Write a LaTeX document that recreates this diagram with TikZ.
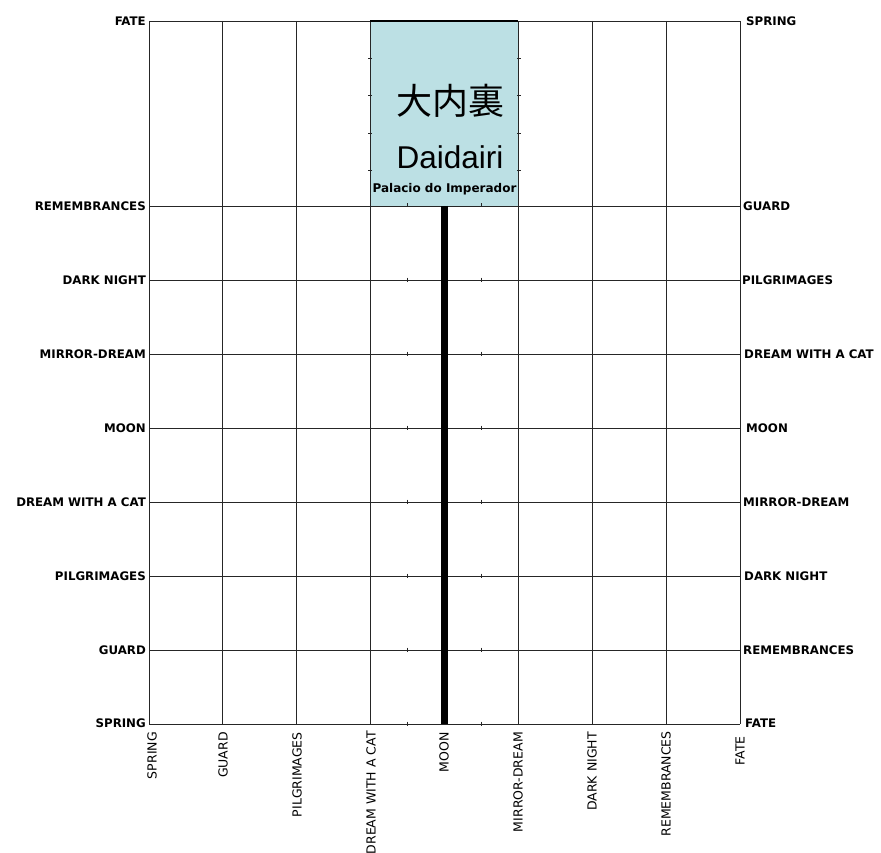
\documentclass[tikz,border=0pt]{standalone}
\usepackage{fontspec}
\newfontfamily\dv{DejaVu Sans}
\newfontfamily\cjk{Noto Sans CJK JP}
\newfontfamily\ar{Liberation Sans}
\definecolor{boxblue}{RGB}{188,224,228}
\tikzset{
  gridline/.style={draw=black!85, line width=0.9pt},
  ticked/.style={draw=black!85, line width=0.8pt},
  leftlab/.style={anchor=east, inner sep=0pt, font=\dv\bfseries\fontsize{11.8}{12}\selectfont},
  rightlab/.style={anchor=west, inner sep=0pt, font=\dv\bfseries\fontsize{11.8}{12}\selectfont},
  botlab/.style={anchor=east, rotate=90, inner sep=0pt, font=\dv\fontsize{12.5}{13}\selectfont},
}
\begin{document}
\begin{tikzpicture}[x=1pt,y=-1pt]
\useasboundingbox (0,0) rectangle (881,853);
% box
\fill[boxblue] (370,21) rectangle (518,206);
% horizontal lines
\draw[gridline] (149,21) -- (740,21);
\foreach \k in {0,...,7} {
  \draw[gridline] (149,206+74*\k) -- (740,206+74*\k);
  \draw[ticked] (407,206+74*\k-2.5) -- (407,206+74*\k+1.5);
  \draw[ticked] (481,206+74*\k-2.5) -- (481,206+74*\k+1.5);
}
% vertical lines
\foreach \k in {0,1,2,3,5,6,7,8} {
  \draw[gridline] (149+73.875*\k,21) -- (149+73.875*\k,724);
}
\draw[gridline] (444,206) -- (444,724);
% box ticks
\foreach \yy in {58,95,133,170} {
  \draw[ticked] (368,\yy) -- (372,\yy);
  \draw[ticked] (517,\yy) -- (521,\yy);
}
\draw[black, line width=2pt] (370,21) -- (518,21);
% thick line
\draw[black, line width=7pt] (444,206) -- (444,723.5);
% box text
\node[inner sep=0pt, font=\cjk\fontsize{36}{40}\selectfont] (kanji) at (450,101) {大内裏};
\node[inner sep=0pt, font=\ar\fontsize{31.5}{34}\selectfont] (dai) at (450,157) {Daidairi};
\node[inner sep=0pt, anchor=base, font=\dv\bfseries\fontsize{12}{13}\selectfont] (pal) at (444.5,193) {Palacio do Imperador};
% left labels
\node[leftlab] (l0) at (146,21) {FATE};
\node[leftlab] (l1) at (146,206) {REMEMBRANCES};
\node[leftlab] (l2) at (146,280) {DARK NIGHT};
\node[leftlab] (l3) at (146,354) {MIRROR-DREAM};
\node[leftlab] (l4) at (146,428) {MOON};
\node[leftlab] (l5) at (146,502) {DREAM WITH A CAT};
\node[leftlab] (l6) at (146,576) {PILGRIMAGES};
\node[leftlab] (l7) at (146,650) {GUARD};
\node[leftlab] (l8) at (146,723) {SPRING};
% right labels
\node[rightlab] (r0) at (746,21) {SPRING};
\node[rightlab] (r1) at (743,206) {GUARD};
\node[rightlab] (r2) at (742,280) {PILGRIMAGES};
\node[rightlab] (r3) at (744,354) {DREAM WITH A CAT};
\node[rightlab] (r4) at (746,428) {MOON};
\node[rightlab] (r5) at (743,502) {MIRROR-DREAM};
\node[rightlab] (r6) at (744,576) {DARK NIGHT};
\node[rightlab] (r7) at (743,650) {REMEMBRANCES};
\node[rightlab] (r8) at (745,723) {FATE};
% bottom labels
\node[botlab] (b0) at (152,732) {SPRING};
\node[botlab] (b1) at (223,732) {GUARD};
\node[botlab] (b2) at (297,732) {PILGRIMAGES};
\node[botlab] (b3) at (371,731) {DREAM WITH A CAT};
\node[botlab] (b4) at (444,732) {MOON};
\node[botlab] (b5) at (518,732) {MIRROR-DREAM};
\node[botlab] (b6) at (592,732) {DARK NIGHT};
\node[botlab] (b7) at (666,731) {REMEMBRANCES};
\node[botlab] (b8) at (740,736) {FATE};
\end{tikzpicture}
\end{document}
